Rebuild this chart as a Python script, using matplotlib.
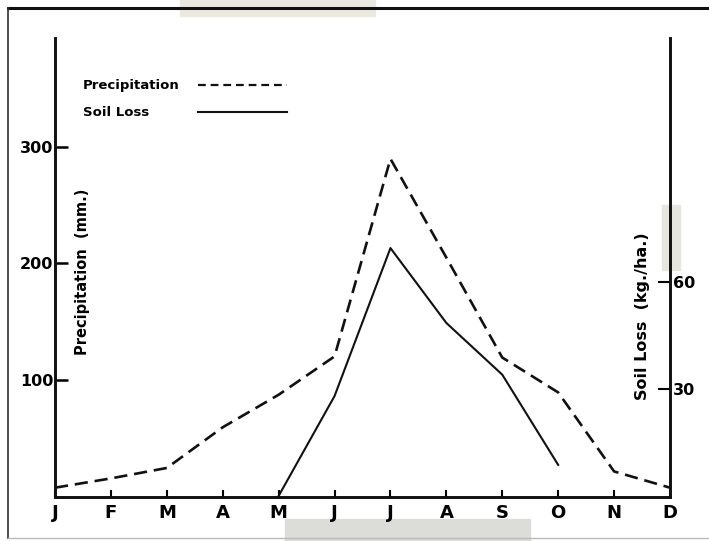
import matplotlib.pyplot as plt
from matplotlib.lines import Line2D
from matplotlib.patches import Rectangle

months = ['J', 'F', 'M', 'A', 'M', 'J', 'J', 'A', 'S', 'O', 'N', 'D']
precip_mm = [7, 15, 24, 59, 87, 120, 290, 205, 119, 89, 21, 7]
soil_months = [4, 5, 6, 7, 8, 9]
soil_loss = [0, 28, 69.5, 48.5, 34, 8.7]

W, H = 709, 541
fig = plt.figure(figsize=(W / 100, H / 100), dpi=100)
fig.patch.set_facecolor('white')

# scanned page marks around the plot
fig.add_artist(Rectangle((180 / W, 1 - 16 / H), 195 / W, 16 / H,
                         transform=fig.transFigure, color='#ebe8df', zorder=0))
fig.add_artist(Rectangle((285 / W, 0), 245 / W, 22 / H,
                         transform=fig.transFigure, color='#dcdcd8', zorder=0))
fig.add_artist(Rectangle((662 / W, 1 - 270 / H), 18 / W, 65 / H,
                         transform=fig.transFigure, color='#e6e6df', zorder=0))
fig.add_artist(Line2D([8 / W, 1], [1 - 8 / H, 1 - 8 / H], transform=fig.transFigure,
                      color='#111111', lw=2.2))
fig.add_artist(Line2D([8 / W, 8 / W], [1 - 8 / H, 1 - 538 / H], transform=fig.transFigure,
                      color='#333333', lw=1.2))
fig.add_artist(Line2D([8 / W, 1], [1 - 538 / H, 1 - 538 / H], transform=fig.transFigure,
                      color='#bbbbbb', lw=1.0))

ax = fig.add_axes([55 / W, 1 - 497 / H, 615 / W, 459 / H])
ax.set_facecolor('none')
ax2 = ax.twinx()

ax.plot(range(12), precip_mm, color='#111111', lw=1.9, linestyle=(0, (5, 2.6)))
ax2.plot(soil_months, soil_loss, color='#111111', lw=1.5)

ax.set_xlim(0, 11)
ax.set_ylim(-1, 394)
ax2.set_ylim(-0.3, 128.4)

font = dict(fontweight='bold', family='DejaVu Sans')

ax.set_xticks(range(12))
ax.set_xticklabels(months, fontsize=13, **font)
ax.set_yticks([100, 200, 300])
ax.set_yticklabels(['100', '200', '300'], fontsize=11.5, **font)
ax2.set_yticks([30, 60])
ax2.set_yticklabels(['30', '60'], fontsize=11.5, **font)

ax.tick_params(axis='x', direction='in', length=5, width=1.5, pad=5)
ax.tick_params(axis='y', direction='in', length=9, width=1.8, pad=1)
ax2.tick_params(axis='y', direction='in', length=9, width=1.5, pad=2)

for a in (ax, ax2):
    a.spines['top'].set_visible(False)
    for s in ('left', 'right', 'bottom'):
        a.spines[s].set_linewidth(1.9)
        a.spines[s].set_color('#111111')

fig.text(83 / W, 1 - 272 / H, 'Precipitation  (mm.)', rotation=90,
         ha='center', va='center', fontsize=10.5, **font)
fig.text(642 / W, 1 - 316 / H, 'Soil Loss  (kg./ha.)', rotation=90,
         ha='center', va='center', fontsize=11.5, **font)

# key
fig.text(83 / W, 1 - 85 / H, 'Precipitation', ha='left', va='center', fontsize=9.5, **font)
fig.text(83 / W, 1 - 113 / H, 'Soil Loss', ha='left', va='center', fontsize=9.5, **font)
fig.add_artist(Line2D([198 / W, 287 / W], [1 - 85 / H, 1 - 85 / H], transform=fig.transFigure,
                      color='#111111', lw=1.6, linestyle=(0, (3.5, 2.2))))
fig.add_artist(Line2D([198 / W, 287 / W], [1 - 112 / H, 1 - 112 / H], transform=fig.transFigure,
                      color='#111111', lw=1.5))

fig.savefig('out.png', dpi=100)
